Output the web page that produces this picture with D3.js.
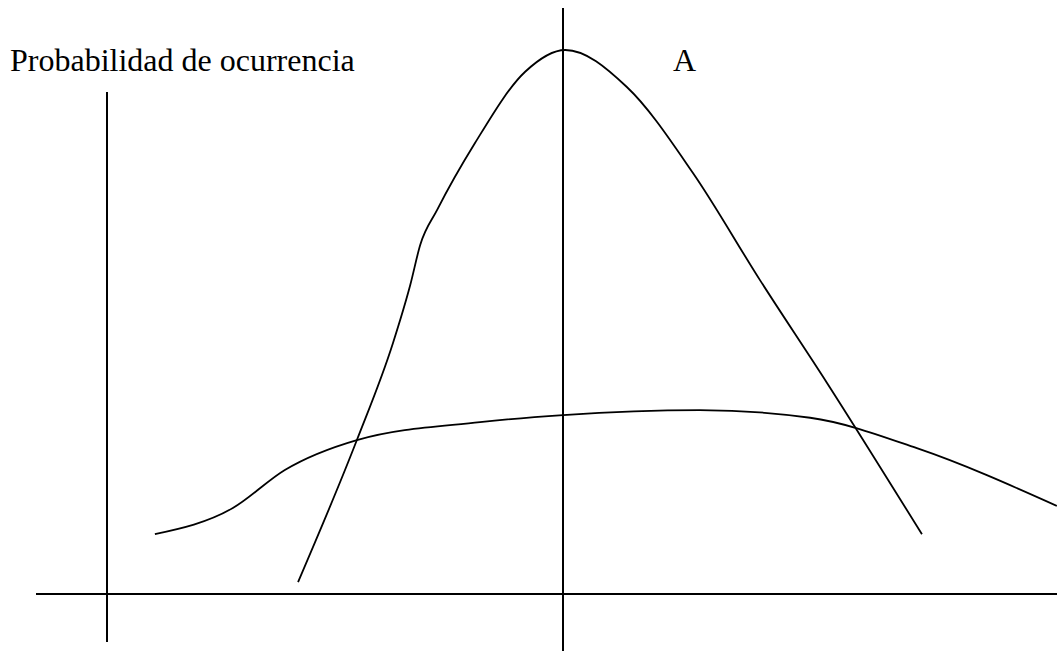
<!DOCTYPE html>
<html>
<head>
<meta charset="utf-8">
<script src="https://cdn.jsdelivr.net/npm/d3@7"></script>
<style>
  html, body { margin: 0; padding: 0; background: #fff; }
  svg { display: block; }
</style>
</head>
<body>
<svg id="chart" width="1057" height="651"></svg>
<script>
// Curve A: narrow distribution (x in abstract units, y = probability, peak = 100)
const curveA_x = [-5.81, -4.52, -3.73, -3.35, -3.13, -2.76, -1.93, -0.83, 0.05, 1.40, 2.85, 4.32, 5.79, 7.87];
const curveA_y = [2.2, 28.3, 46.1, 56.8, 64.2, 70.6, 82.9, 96.0, 100, 93.2, 77.4, 57.7, 38.8, 11.0];
// Curve B: wide, flat distribution
const curveB_x = [-8.95, -7.24, -6.10, -4.52, -1.82, 0, 3.0, 5.42, 7.76, 10.83];
const curveB_y = [11.0, 15.8, 22.8, 28.3, 31.6, 32.9, 33.8, 32.4, 26.8, 16.2];
const yAxisLabel = "Probabilidad de ocurrencia";
const curveLabel = "A";

const svg = d3.select("#chart");
const x = d3.scaleLinear().domain([-10, 10]).range([107, 1019]);
const y = d3.scaleLinear().domain([0, 100]).range([594, 50]);

const line = d3.line()
  .x(d => x(d[0])).y(d => y(d[1]))
  .curve(d3.curveMonotoneX);

const dataA = curveA_x.map((v, i) => [v, curveA_y[i]]);
const dataB = curveB_x.map((v, i) => [v, curveB_y[i]]);

// axes lines
const ax = svg.append("g").attr("stroke", "#000").attr("stroke-width", 2);
ax.append("line").attr("x1", 36).attr("x2", 1057).attr("y1", y(0)).attr("y2", y(0));
ax.append("line").attr("x1", x(-10)).attr("x2", x(-10)).attr("y1", 92).attr("y2", 642);
ax.append("line").attr("x1", x(0)).attr("x2", x(0)).attr("y1", 8).attr("y2", 651);

svg.append("path").datum(dataB).attr("d", line)
  .attr("fill", "none").attr("stroke", "#000").attr("stroke-width", 1.8);
svg.append("path").datum(dataA).attr("d", line)
  .attr("fill", "none").attr("stroke", "#000").attr("stroke-width", 1.8);

svg.append("text").attr("x", 10).attr("y", 71)
  .attr("font-family", "'Liberation Serif', 'Times New Roman', serif")
  .attr("font-size", 32).attr("fill", "#000").text(yAxisLabel);
svg.append("text").attr("x", 673).attr("y", 71)
  .attr("font-family", "'Liberation Serif', 'Times New Roman', serif")
  .attr("font-size", 32).attr("fill", "#000").text(curveLabel);
</script>
</body>
</html>
